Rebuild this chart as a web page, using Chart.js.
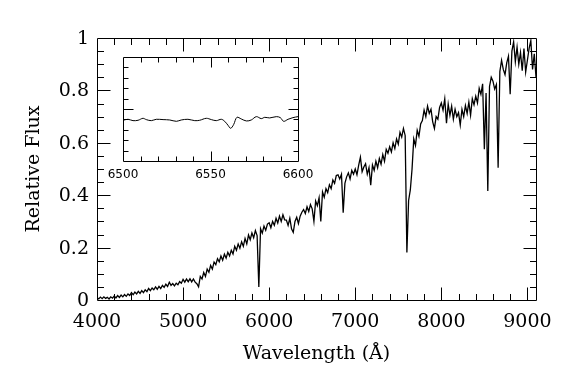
<!DOCTYPE html>
<html>
<head>
<meta charset="utf-8">
<script src="https://cdn.jsdelivr.net/npm/chart.js@4.4.1/dist/chart.umd.min.js"></script>
<style>
  html, body { margin: 0; padding: 0; background: #fff; }
  #wrap { position: relative; width: 581px; height: 392px; }
  canvas { position: absolute; left: 0; top: 0; }
  #inset { pointer-events: none; }
</style>
</head>
<body>
<div id="wrap">
  <canvas id="main" width="581" height="392"></canvas>
  <canvas id="inset" width="581" height="392"></canvas>
</div>
<script>
// ---------------- DATA ----------------
// Main spectrum: wavelength grid start/step (Angstrom) and hand-read relative flux values
const waveStart = 4000;
const waveStep = 20;
const flux = [
  0.010,0.004,0.011,0.005,0.012,0.006,0.010,0.004,0.012,0.007,
  0.015,0.008,0.017,0.010,0.019,0.012,0.021,0.014,0.023,0.017,
  0.028,0.020,0.030,0.023,0.033,0.025,0.036,0.028,0.039,0.032,
  0.044,0.036,0.046,0.039,0.050,0.041,0.052,0.044,0.056,0.048,
  0.060,0.052,0.068,0.056,0.063,0.054,0.064,0.058,0.070,0.064,
  0.079,0.068,0.080,0.070,0.081,0.069,0.080,0.068,0.062,0.050,
  0.090,0.080,0.105,0.090,0.118,0.106,0.132,0.118,0.145,0.135,
  0.158,0.146,0.168,0.152,0.175,0.160,0.182,0.168,0.190,0.176,
  0.205,0.190,0.214,0.198,0.222,0.205,0.235,0.214,0.248,0.230,
  0.256,0.238,0.265,0.246,0.050,0.272,0.255,0.282,0.266,0.290,
  0.295,0.276,0.300,0.285,0.312,0.294,0.320,0.300,0.325,0.306,
  0.305,0.285,0.312,0.272,0.258,0.300,0.316,0.292,0.320,0.335,
  0.345,0.330,0.356,0.338,0.364,0.348,0.300,0.378,0.360,0.390,
  0.300,0.412,0.392,0.425,0.410,0.440,0.425,0.458,0.445,0.475,
  0.478,0.462,0.480,0.333,0.445,0.470,0.485,0.462,0.495,0.480,
  0.500,0.478,0.515,0.545,0.490,0.508,0.520,0.480,0.505,0.438,
  0.515,0.495,0.530,0.505,0.540,0.518,0.555,0.530,0.575,0.560,
  0.585,0.565,0.600,0.578,0.615,0.595,0.640,0.622,0.655,0.628,
  0.181,0.380,0.420,0.500,0.615,0.590,0.648,0.625,0.672,0.685,
  0.725,0.700,0.740,0.712,0.728,0.680,0.655,0.700,0.690,0.735,
  0.752,0.725,0.768,0.675,0.748,0.705,0.740,0.690,0.728,0.700,
  0.715,0.668,0.728,0.700,0.742,0.712,0.755,0.705,0.768,0.745,
  0.778,0.752,0.808,0.785,0.825,0.575,0.790,0.416,0.815,0.850,
  0.835,0.805,0.822,0.505,0.872,0.915,0.880,0.860,0.905,0.930,
  0.785,0.950,0.985,0.910,0.965,0.900,0.945,0.875,0.960,0.870,
  0.915,0.960,0.990,0.880,0.940,0.850
];
const wavelength = flux.map((_, i) => waveStart + i * waveStep);

// Main axes tick labels
const xTickLabels = [4000, 5000, 6000, 7000, 8000, 9000];
const yTickLabels = [0, 0.2, 0.4, 0.6, 0.8, 1];

// Inset (H-alpha region)
const insetWave = [6500.0,6502.9,6505.7,6508.6,6511.4,6513.3,6516.2,6519.0,6522.9,6526.7,
  6530.5,6533.3,6537.1,6541.0,6543.8,6547.6,6550.5,6553.3,6556.2,6558.1,6560.0,6561.5,
  6563.2,6565.1,6567.6,6570.5,6573.3,6576.2,6579.0,6581.0,6583.8,6587.6,6589.9,6591.8,
  6594.3,6597.1,6600.0];
const insetFlux = [0.783,0.802,0.776,0.783,0.821,0.796,0.776,0.802,0.796,0.789,
  0.763,0.789,0.802,0.776,0.783,0.821,0.796,0.776,0.802,0.763,0.687,0.629,
  0.699,0.840,0.808,0.770,0.789,0.853,0.815,0.840,0.828,0.853,0.834,0.763,
  0.802,0.834,0.853];
const insetTickLabels = [6500, 6550, 6600];

// Axis titles
const xTitle = 'Wavelength (Å)';
const yTitle = 'Relative Flux';

// ---------------- DRAWING HELPERS ----------------
const MAIN_FONT = '19px "DejaVu Serif", "Liberation Serif", serif';
const INSET_FONT = '12px "DejaVu Sans", "Liberation Sans", sans-serif';

function crisp(v) { return Math.round(v) + 0.5; }

function ticksList(min, max, step) {
  const out = [];
  const n = Math.round((max - min) / step);
  for (let i = 0; i <= n; i++) out.push(+(min + i * step).toFixed(6));
  return out;
}

function frameAndTicks(chart, o) {
  const { ctx, chartArea: ca, scales: { x, y } } = chart;
  ctx.save();
  ctx.strokeStyle = '#000';
  ctx.lineWidth = 1;
  const L = crisp(ca.left), R = crisp(ca.right), T = crisp(ca.top), B = crisp(ca.bottom);
  ctx.beginPath();
  ctx.rect(L, T, R - L, B - T);
  ctx.stroke();
  ctx.beginPath();
  o.xTicks.forEach(v => {
    const major = o.xMajor.some(m => Math.abs(m - v) < 1e-6);
    const len = major ? o.majLen : o.minLen;
    const px = crisp(x.getPixelForValue(v));
    if (px <= L || px >= R) return;
    ctx.moveTo(px, B); ctx.lineTo(px, B - len);
    ctx.moveTo(px, T); ctx.lineTo(px, T + len);
  });
  o.yTicks.forEach(v => {
    const major = o.yMajor.some(m => Math.abs(m - v) < 1e-6);
    const len = major ? o.majLen : o.minLen;
    const py = crisp(y.getPixelForValue(v));
    if (py <= T || py >= B) return;
    ctx.moveTo(L, py); ctx.lineTo(L + len, py);
    ctx.moveTo(R, py); ctx.lineTo(R - len, py);
  });
  ctx.stroke();
  ctx.restore();
}

// ---------------- MAIN CHART ----------------
const mainPlugin = {
  id: 'mainDecor',
  beforeDraw(chart) {
    const { ctx } = chart;
    ctx.save();
    ctx.fillStyle = '#fff';
    ctx.fillRect(0, 0, chart.width, chart.height);
    ctx.restore();
  },
  afterDraw(chart) {
    const { ctx, chartArea: ca, scales: { x, y } } = chart;
    frameAndTicks(chart, {
      xTicks: ticksList(4000, 9100, 200), xMajor: xTickLabels,
      yTicks: ticksList(0, 1, 0.05), yMajor: yTickLabels,
      majLen: 13, minLen: 6.5
    });
    ctx.save();
    ctx.fillStyle = '#000';
    ctx.font = MAIN_FONT;
    ctx.textAlign = 'center';
    ctx.textBaseline = 'alphabetic';
    xTickLabels.forEach(v => {
      ctx.fillText(String(v), x.getPixelForValue(v), 327);
    });
    ctx.textAlign = 'right';
    ctx.textBaseline = 'middle';
    yTickLabels.forEach(v => {
      ctx.fillText(String(v), 89, y.getPixelForValue(v) + 1);
    });
    ctx.textAlign = 'center';
    ctx.textBaseline = 'alphabetic';
    ctx.fillText(xTitle, (ca.left + ca.right) / 2, 359);
    ctx.translate(39, (ca.top + ca.bottom) / 2);
    ctx.rotate(-Math.PI / 2);
    ctx.fillText(yTitle, 0, 0);
    ctx.restore();
  }
};

new Chart(document.getElementById('main'), {
  type: 'line',
  data: {
    datasets: [{
      data: wavelength.map((w, i) => ({ x: w, y: flux[i] })),
      borderColor: '#000',
      borderWidth: 1.3,
      pointRadius: 0,
      tension: 0,
      fill: false
    }]
  },
  options: {
    responsive: false,
    devicePixelRatio: 1,
    animation: false,
    events: [],
    layout: { padding: { left: 97, top: 38, right: 45, bottom: 92 } },
    plugins: { legend: { display: false }, tooltip: { enabled: false } },
    scales: {
      x: { type: 'linear', min: 4000, max: 9100, display: false },
      y: { type: 'linear', min: 0, max: 1, display: false }
    }
  },
  plugins: [mainPlugin]
});

// ---------------- INSET CHART ----------------
const insetPlugin = {
  id: 'insetDecor',
  beforeDatasetsDraw(chart) {
    const { ctx, chartArea: ca } = chart;
    ctx.save();
    ctx.fillStyle = '#fff';
    ctx.fillRect(ca.left, ca.top, ca.right - ca.left, ca.bottom - ca.top);
    ctx.restore();
  },
  afterDraw(chart) {
    const { ctx, scales: { x } } = chart;
    frameAndTicks(chart, {
      xTicks: ticksList(6500, 6600, 10), xMajor: insetTickLabels,
      yTicks: ticksList(0, 2, 0.2), yMajor: [0, 1, 2],
      majLen: 10, minLen: 5
    });
    ctx.save();
    ctx.fillStyle = '#000';
    ctx.font = INSET_FONT;
    ctx.textAlign = 'center';
    ctx.textBaseline = 'alphabetic';
    insetTickLabels.forEach(v => {
      ctx.fillText(String(v), x.getPixelForValue(v), 178);
    });
    ctx.restore();
  }
};

new Chart(document.getElementById('inset'), {
  type: 'line',
  data: {
    datasets: [{
      data: insetWave.map((w, i) => ({ x: w, y: insetFlux[i] })),
      borderColor: '#000',
      borderWidth: 1,
      pointRadius: 0,
      tension: 0.35,
      fill: false
    }]
  },
  options: {
    responsive: false,
    devicePixelRatio: 1,
    animation: false,
    events: [],
    layout: { padding: { left: 123, top: 57, right: 283, bottom: 231 } },
    plugins: { legend: { display: false }, tooltip: { enabled: false } },
    scales: {
      x: { type: 'linear', min: 6500, max: 6600, display: false },
      y: { type: 'linear', min: 0, max: 2, display: false }
    }
  },
  plugins: [insetPlugin]
});
</script>
</body>
</html>
